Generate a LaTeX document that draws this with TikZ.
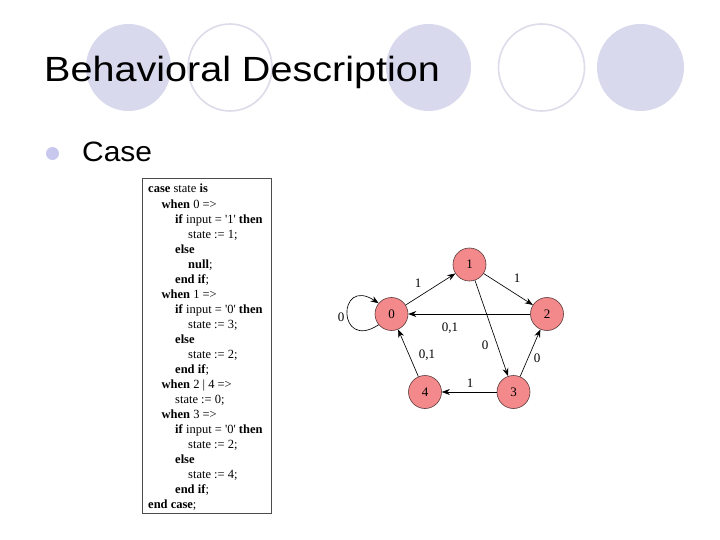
\documentclass[tikz,border=0pt]{standalone}
\usepackage{fontspec}
\setmainfont{Liberation Serif}
\newfontfamily\titlefont{Liberation Sans}
\usetikzlibrary{arrows.meta}
\definecolor{deco}{HTML}{D9D9EE}
\definecolor{decoline}{HTML}{DCDCEA}
\definecolor{bulletc}{HTML}{C8C8EE}
\definecolor{statefill}{HTML}{F4898B}
\definecolor{statedraw}{HTML}{5A3A3A}
\newcommand{\sq}{\textquotesingle}
\tikzset{
  decofill/.style={fill=deco, draw=none},
  decoring/.style={draw=decoline, line width=1.6pt, fill=white},
  codeline/.style={anchor=base west, inner sep=0pt, font=\fontsize{12.5}{15}\selectfont},
  state/.style={circle, fill=statefill, draw=statedraw, line width=0.6pt, minimum size=33pt, inner sep=0pt, font=\fontsize{13}{15}\selectfont},
  trans/.style={line width=0.65pt, -{Stealth[length=8pt,width=6pt]}},
  elabel/.style={inner sep=0pt, font=\fontsize{13}{15}\selectfont}
}
\begin{document}
\begin{tikzpicture}[x=1pt,y=-1pt]
\useasboundingbox (0,0) rectangle (720,540);
\fill[white] (0,0) rectangle (720,540);
% decorative ellipses
\fill[decofill] (128.5,67.5) ellipse [x radius=42.5, y radius=43.5];
\draw[decoring] (230,67.5) ellipse [x radius=42, y radius=43.5];
\fill[decofill] (428.5,67.5) ellipse [x radius=42.5, y radius=43.5];
\draw[decoring] (541.5,67.5) ellipse [x radius=43, y radius=43.5];
\fill[decofill] (640.5,67.5) ellipse [x radius=43.5, y radius=43.5];
% title
\node[anchor=base west, inner sep=0pt] (title) at (44,82) {\scalebox{1.13}[1]{\titlefont\fontsize{35}{40}\selectfont Behavioral Description}};
% bullet
\fill[bulletc] (52.5,153.5) circle [radius=6.5];
\node[anchor=base west, inner sep=0pt] (case) at (82,162) {\scalebox{1.07}[1]{\titlefont\fontsize{28}{32}\selectfont Case}};
% code box
\draw[draw=black!70, line width=0.8pt] (142,178) rectangle (271,513);
\node[codeline] (c0) at (148,193) {\textbf{case} state \textbf{is}};
\node[codeline] (c1) at (161.5,208) {\textbf{when} 0 =>};
\node[codeline] (c2) at (175,223) {\textbf{if} input = \sq1\sq{} \textbf{then}};
\node[codeline] (c3) at (188,238) {state := 1;};
\node[codeline] (c4) at (175,253) {\textbf{else}};
\node[codeline] (c5) at (188,268) {\textbf{null};};
\node[codeline] (c6) at (175,283) {\textbf{end if};};
\node[codeline] (c7) at (161.5,298) {\textbf{when} 1 =>};
\node[codeline] (c8) at (175,313) {\textbf{if} input = \sq0\sq{} \textbf{then}};
\node[codeline] (c9) at (188,328) {state := 3;};
\node[codeline] (c10) at (175,343) {\textbf{else}};
\node[codeline] (c11) at (188,358) {state := 2;};
\node[codeline] (c12) at (175,373) {\textbf{end if};};
\node[codeline] (c13) at (161.5,388) {\textbf{when} 2 | 4 =>};
\node[codeline] (c14) at (175,403) {state := 0;};
\node[codeline] (c15) at (161.5,418) {\textbf{when} 3 =>};
\node[codeline] (c16) at (175,433) {\textbf{if} input = \sq0\sq{} \textbf{then}};
\node[codeline] (c17) at (188,448) {state := 2;};
\node[codeline] (c18) at (175,463) {\textbf{else}};
\node[codeline] (c19) at (188,478) {state := 4;};
\node[codeline] (c20) at (175,493) {\textbf{end if};};
\node[codeline] (c21) at (148,508) {\textbf{end case};};
% state graph
\node[state] (n0) at (391.5,314) {0};
\node[state] (n1) at (469.5,264.5) {1};
\node[state] (n2) at (547,314) {2};
\node[state] (n3) at (513.5,392) {3};
\node[state] (n4) at (425,392) {4};
\draw[trans] (n0) -- (n1);
\draw[trans] (n1) -- (n2);
\draw[trans] (n2) -- (n0);
\draw[trans] (n1) -- (n3);
\draw[trans] (n3) -- (n2);
\draw[trans] (n3) -- (n4);
\draw[trans] (n4) -- (n0);
\draw[trans] (n0.220) .. controls (337,352) and (337,276) .. (n0.140);
\node[elabel] (l01) at (418,283) {1};
\node[elabel] (l12) at (517,278) {1};
\node[elabel] (l20) at (450,328) {0,1};
\node[elabel] (l13) at (485,345) {0};
\node[elabel] (l32) at (537,358) {0};
\node[elabel] (l34) at (470,383) {1};
\node[elabel] (l40) at (427,355) {0,1};
\node[elabel] (l00) at (341,317) {0};
\end{tikzpicture}
\end{document}
